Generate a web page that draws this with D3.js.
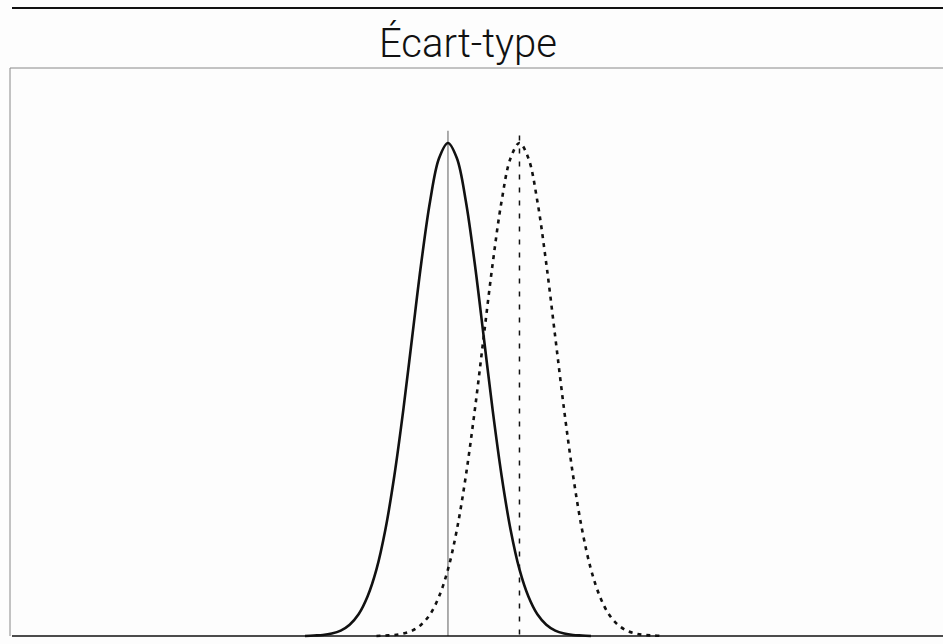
<!DOCTYPE html>
<html>
<head>
<meta charset="utf-8">
<script src="https://cdn.jsdelivr.net/npm/d3@7"></script>
<style>
html,body{margin:0;padding:0;background:#fdfdfd;}
svg{display:block;}
</style>
</head>
<body>
<svg id="chart" width="943" height="644"></svg>
<script>
// Title
const title = "Écart-type";

// Standardized positions (in standard deviations) sampled along each curve
const solidX  = [-4,-3.75,-3.5,-3.25,-3,-2.75,-2.5,-2.25,-2,-1.75,-1.5,-1.25,-1,-0.75,-0.5,-0.25,0,0.25,0.5,0.75,1,1.25,1.5,1.75,2,2.25,2.5,2.75,3,3.25,3.5,3.75,4];
const dashedX = [-2,-1.75,-1.5,-1.25,-1,-0.75,-0.5,-0.25,0,0.25,0.5,0.75,1,1.25,1.5,1.75,2,2.25,2.5,2.75,3,3.25,3.5,3.75,4,4.25,4.5,4.75,5,5.25,5.5,5.75,6];

// Relative heights (peak = 1)
const solidY  = [0.000,0.001,0.002,0.005,0.011,0.023,0.044,0.080,0.135,0.216,0.325,0.458,0.607,0.755,0.882,0.969,1.000,0.969,0.882,0.755,0.607,0.458,0.325,0.216,0.135,0.080,0.044,0.023,0.011,0.005,0.002,0.001,0.000];
const dashedY = [0.000,0.001,0.002,0.005,0.011,0.023,0.044,0.080,0.135,0.216,0.325,0.458,0.607,0.755,0.882,0.969,1.000,0.969,0.882,0.755,0.607,0.458,0.325,0.216,0.135,0.080,0.044,0.023,0.011,0.005,0.002,0.001,0.000];

// Means (vertical reference lines)
const means = [0, 2];
const meanTop = [1.025, 1.015];

const svg = d3.select("#chart");
const W = 943, H = 644;
const box = {left: 10, top: 68, right: 943, bottom: 636};

const x = d3.scaleLinear().domain([-12.25, 13.846]).range([box.left, box.right]);
const y = d3.scaleLinear().domain([0, 1]).range([box.bottom, 143]);

// Top rule
svg.append("line").attr("x1", 12).attr("x2", W).attr("y1", 8).attr("y2", 8)
  .attr("stroke", "#111").attr("stroke-width", 2.2);

// Title
svg.append("text").attr("x", 468).attr("y", 57).attr("text-anchor", "middle")
  .attr("font-family", "Roboto, Liberation Sans, Arial, sans-serif").attr("font-size", 40)
  .attr("font-weight", 300).attr("fill", "#111").text(title);

// Frame (left & top)
svg.append("path")
  .attr("d", `M${box.left},${box.bottom}V${box.top}H${box.right}`)
  .attr("fill", "none").attr("stroke", "#888").attr("stroke-width", 1);

// Vertical mean lines
svg.append("line").attr("x1", x(means[0])).attr("x2", x(means[0]))
  .attr("y1", y(meanTop[0])).attr("y2", y(0))
  .attr("stroke", "#777").attr("stroke-width", 1.2);
svg.append("line").attr("x1", x(means[1])).attr("x2", x(means[1]))
  .attr("y1", y(meanTop[1])).attr("y2", y(0))
  .attr("stroke", "#111").attr("stroke-width", 1.5).attr("stroke-dasharray", "5,8");

const line = d3.line().x(d => x(d[0])).y(d => y(d[1])).curve(d3.curveCatmullRom);

svg.append("path").datum(solidX.map((v, i) => [v, solidY[i]]))
  .attr("d", line).attr("fill", "none").attr("stroke", "#111").attr("stroke-width", 2.6);

svg.append("path").datum(dashedX.map((v, i) => [v, dashedY[i]]))
  .attr("d", line).attr("fill", "none").attr("stroke", "#111").attr("stroke-width", 2.6)
  .attr("stroke-dasharray", "4,5");

// Baseline axis
const axis = d3.axisBottom(x).tickValues([]).tickSizeOuter(0);
svg.append("g").attr("transform", `translate(0,${box.bottom})`).call(axis)
  .call(g => g.select(".domain").attr("stroke", "#111").attr("stroke-width", 1.6)
    .attr("d", `M12,0H${W}`));
</script>
</body>
</html>
